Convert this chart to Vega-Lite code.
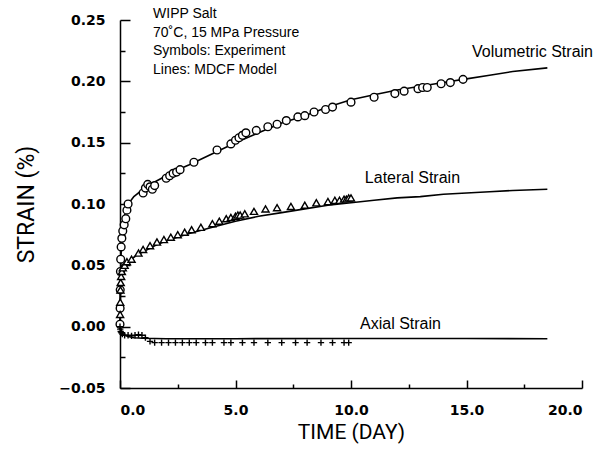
{
  "$schema": "https://vega.github.io/schema/vega-lite/v6.json",
  "autosize": "none",
  "width": 462,
  "height": 368,
  "padding": {"left": 120, "top": 20, "right": 29, "bottom": 63},
  "background": "white",
  "config": {
    "view": {"stroke": null},
    "axis": {
      "grid": false,
      "domainColor": "black",
      "domainWidth": 1.5,
      "tickColor": "black",
      "tickWidth": 1.5,
      "labelFont": "DejaVu Sans",
      "labelFontWeight": "bold",
      "labelFontSize": 14,
      "labelColor": "black",
      "titleFont": "Roboto",
      "titleFontWeight": "normal",
      "titleFontSize": 21,
      "titleColor": "black"
    }
  },
  "datasets": {
    "lines": [
      {"series": "Volumetric", "t": 0, "s": 0},
      {"series": "Volumetric", "t": 0.01, "s": 0.02},
      {"series": "Volumetric", "t": 0.02, "s": 0.035},
      {"series": "Volumetric", "t": 0.04, "s": 0.055},
      {"series": "Volumetric", "t": 0.07, "s": 0.07},
      {"series": "Volumetric", "t": 0.1, "s": 0.078},
      {"series": "Volumetric", "t": 0.15, "s": 0.086},
      {"series": "Volumetric", "t": 0.2, "s": 0.091},
      {"series": "Volumetric", "t": 0.3, "s": 0.097},
      {"series": "Volumetric", "t": 0.4, "s": 0.101},
      {"series": "Volumetric", "t": 0.6, "s": 0.106},
      {"series": "Volumetric", "t": 0.8, "s": 0.109},
      {"series": "Volumetric", "t": 1.0, "s": 0.112},
      {"series": "Volumetric", "t": 1.5, "s": 0.118},
      {"series": "Volumetric", "t": 2, "s": 0.123},
      {"series": "Volumetric", "t": 2.5, "s": 0.128},
      {"series": "Volumetric", "t": 3, "s": 0.132},
      {"series": "Volumetric", "t": 4, "s": 0.141},
      {"series": "Volumetric", "t": 5, "s": 0.15},
      {"series": "Volumetric", "t": 6, "s": 0.158},
      {"series": "Volumetric", "t": 7, "s": 0.166},
      {"series": "Volumetric", "t": 8, "s": 0.172},
      {"series": "Volumetric", "t": 9, "s": 0.179},
      {"series": "Volumetric", "t": 10, "s": 0.185},
      {"series": "Volumetric", "t": 11, "s": 0.189},
      {"series": "Volumetric", "t": 12, "s": 0.193},
      {"series": "Volumetric", "t": 13, "s": 0.196},
      {"series": "Volumetric", "t": 14, "s": 0.199},
      {"series": "Volumetric", "t": 15, "s": 0.202},
      {"series": "Volumetric", "t": 16, "s": 0.205},
      {"series": "Volumetric", "t": 17, "s": 0.208},
      {"series": "Volumetric", "t": 18.5, "s": 0.211},
      {"series": "Lateral", "t": 0, "s": 0},
      {"series": "Lateral", "t": 0.01, "s": 0.02},
      {"series": "Lateral", "t": 0.02, "s": 0.03},
      {"series": "Lateral", "t": 0.04, "s": 0.038},
      {"series": "Lateral", "t": 0.07, "s": 0.043},
      {"series": "Lateral", "t": 0.1, "s": 0.046},
      {"series": "Lateral", "t": 0.2, "s": 0.05},
      {"series": "Lateral", "t": 0.3, "s": 0.052},
      {"series": "Lateral", "t": 0.5, "s": 0.055},
      {"series": "Lateral", "t": 0.7, "s": 0.058},
      {"series": "Lateral", "t": 1, "s": 0.061},
      {"series": "Lateral", "t": 1.5, "s": 0.066},
      {"series": "Lateral", "t": 2, "s": 0.07},
      {"series": "Lateral", "t": 3, "s": 0.076},
      {"series": "Lateral", "t": 4, "s": 0.081},
      {"series": "Lateral", "t": 5, "s": 0.086},
      {"series": "Lateral", "t": 6, "s": 0.09},
      {"series": "Lateral", "t": 7, "s": 0.093},
      {"series": "Lateral", "t": 8, "s": 0.096},
      {"series": "Lateral", "t": 9, "s": 0.099},
      {"series": "Lateral", "t": 10, "s": 0.101},
      {"series": "Lateral", "t": 11, "s": 0.103},
      {"series": "Lateral", "t": 12, "s": 0.105},
      {"series": "Lateral", "t": 13, "s": 0.106},
      {"series": "Lateral", "t": 14, "s": 0.108},
      {"series": "Lateral", "t": 15, "s": 0.109},
      {"series": "Lateral", "t": 16, "s": 0.11},
      {"series": "Lateral", "t": 17, "s": 0.111},
      {"series": "Lateral", "t": 18.5, "s": 0.112},
      {"series": "Axial", "t": 0, "s": 0},
      {"series": "Axial", "t": 0.03, "s": -0.002},
      {"series": "Axial", "t": 0.07, "s": -0.004},
      {"series": "Axial", "t": 0.12, "s": -0.006},
      {"series": "Axial", "t": 0.2, "s": -0.007},
      {"series": "Axial", "t": 0.35, "s": -0.008},
      {"series": "Axial", "t": 0.6, "s": -0.009},
      {"series": "Axial", "t": 1, "s": -0.0095},
      {"series": "Axial", "t": 2, "s": -0.0098},
      {"series": "Axial", "t": 5, "s": -0.0098},
      {"series": "Axial", "t": 10, "s": -0.0097},
      {"series": "Axial", "t": 15, "s": -0.0097},
      {"series": "Axial", "t": 18.5, "s": -0.0098}
    ],
    "points": [
      {"series": "Volumetric", "t": 0, "s": 0.002},
      {"series": "Volumetric", "t": 0.005, "s": 0.015},
      {"series": "Volumetric", "t": 0.01, "s": 0.03},
      {"series": "Volumetric", "t": 0.02, "s": 0.045},
      {"series": "Volumetric", "t": 0.03, "s": 0.055},
      {"series": "Volumetric", "t": 0.05, "s": 0.065},
      {"series": "Volumetric", "t": 0.08, "s": 0.072},
      {"series": "Volumetric", "t": 0.12, "s": 0.078},
      {"series": "Volumetric", "t": 0.18, "s": 0.083},
      {"series": "Volumetric", "t": 0.25, "s": 0.088},
      {"series": "Volumetric", "t": 0.3, "s": 0.095},
      {"series": "Volumetric", "t": 0.35, "s": 0.1},
      {"series": "Volumetric", "t": 1.0, "s": 0.109},
      {"series": "Volumetric", "t": 1.1, "s": 0.113},
      {"series": "Volumetric", "t": 1.2, "s": 0.116},
      {"series": "Volumetric", "t": 1.3, "s": 0.114},
      {"series": "Volumetric", "t": 1.4, "s": 0.112},
      {"series": "Volumetric", "t": 1.5, "s": 0.115},
      {"series": "Volumetric", "t": 2.0, "s": 0.121},
      {"series": "Volumetric", "t": 2.15, "s": 0.123},
      {"series": "Volumetric", "t": 2.3, "s": 0.125},
      {"series": "Volumetric", "t": 2.45, "s": 0.126},
      {"series": "Volumetric", "t": 2.6, "s": 0.128},
      {"series": "Volumetric", "t": 3.2, "s": 0.134},
      {"series": "Volumetric", "t": 4.2, "s": 0.144},
      {"series": "Volumetric", "t": 4.8, "s": 0.149},
      {"series": "Volumetric", "t": 5.0, "s": 0.152},
      {"series": "Volumetric", "t": 5.15, "s": 0.154},
      {"series": "Volumetric", "t": 5.3, "s": 0.156},
      {"series": "Volumetric", "t": 5.45, "s": 0.158},
      {"series": "Volumetric", "t": 5.9, "s": 0.16},
      {"series": "Volumetric", "t": 6.4, "s": 0.163},
      {"series": "Volumetric", "t": 6.8, "s": 0.165},
      {"series": "Volumetric", "t": 7.2, "s": 0.168},
      {"series": "Volumetric", "t": 7.7, "s": 0.171},
      {"series": "Volumetric", "t": 8.0, "s": 0.172},
      {"series": "Volumetric", "t": 8.4, "s": 0.175},
      {"series": "Volumetric", "t": 8.9, "s": 0.177},
      {"series": "Volumetric", "t": 9.2, "s": 0.179},
      {"series": "Volumetric", "t": 10.0, "s": 0.183},
      {"series": "Volumetric", "t": 11.0, "s": 0.187},
      {"series": "Volumetric", "t": 11.9, "s": 0.19},
      {"series": "Volumetric", "t": 12.3, "s": 0.192},
      {"series": "Volumetric", "t": 12.9, "s": 0.194},
      {"series": "Volumetric", "t": 13.1, "s": 0.195},
      {"series": "Volumetric", "t": 13.3, "s": 0.195},
      {"series": "Volumetric", "t": 13.9, "s": 0.198},
      {"series": "Volumetric", "t": 14.3, "s": 0.199},
      {"series": "Volumetric", "t": 14.85, "s": 0.2016},
      {"series": "Lateral", "t": 0.005, "s": 0.01},
      {"series": "Lateral", "t": 0.01, "s": 0.02},
      {"series": "Lateral", "t": 0.02, "s": 0.03},
      {"series": "Lateral", "t": 0.03, "s": 0.036},
      {"series": "Lateral", "t": 0.05, "s": 0.041},
      {"series": "Lateral", "t": 0.08, "s": 0.045},
      {"series": "Lateral", "t": 0.12, "s": 0.048},
      {"series": "Lateral", "t": 0.2, "s": 0.05},
      {"series": "Lateral", "t": 0.3, "s": 0.053},
      {"series": "Lateral", "t": 0.5, "s": 0.055},
      {"series": "Lateral", "t": 0.8, "s": 0.06},
      {"series": "Lateral", "t": 1.0, "s": 0.063},
      {"series": "Lateral", "t": 1.3, "s": 0.066},
      {"series": "Lateral", "t": 1.6, "s": 0.069},
      {"series": "Lateral", "t": 1.9, "s": 0.071},
      {"series": "Lateral", "t": 2.2, "s": 0.073},
      {"series": "Lateral", "t": 2.5, "s": 0.075},
      {"series": "Lateral", "t": 2.8, "s": 0.077},
      {"series": "Lateral", "t": 3.1, "s": 0.079},
      {"series": "Lateral", "t": 3.5, "s": 0.081},
      {"series": "Lateral", "t": 4.0, "s": 0.084},
      {"series": "Lateral", "t": 4.3, "s": 0.086},
      {"series": "Lateral", "t": 4.6, "s": 0.088},
      {"series": "Lateral", "t": 4.8, "s": 0.089},
      {"series": "Lateral", "t": 5.0, "s": 0.09},
      {"series": "Lateral", "t": 5.1, "s": 0.091},
      {"series": "Lateral", "t": 5.2, "s": 0.091},
      {"series": "Lateral", "t": 5.4, "s": 0.092},
      {"series": "Lateral", "t": 5.8, "s": 0.094},
      {"series": "Lateral", "t": 6.3, "s": 0.096},
      {"series": "Lateral", "t": 6.8, "s": 0.097},
      {"series": "Lateral", "t": 7.4, "s": 0.098},
      {"series": "Lateral", "t": 8.0, "s": 0.099},
      {"series": "Lateral", "t": 8.5, "s": 0.101},
      {"series": "Lateral", "t": 9.0, "s": 0.102},
      {"series": "Lateral", "t": 9.3, "s": 0.103},
      {"series": "Lateral", "t": 9.5, "s": 0.103},
      {"series": "Lateral", "t": 9.7, "s": 0.104},
      {"series": "Lateral", "t": 9.8, "s": 0.104},
      {"series": "Lateral", "t": 9.9, "s": 0.105},
      {"series": "Lateral", "t": 10.0, "s": 0.105},
      {"series": "Axial", "t": 0, "s": 0},
      {"series": "Axial", "t": 0.01, "s": -0.002},
      {"series": "Axial", "t": 0.03, "s": -0.004},
      {"series": "Axial", "t": 0.06, "s": -0.005},
      {"series": "Axial", "t": 0.1, "s": -0.006},
      {"series": "Axial", "t": 0.2, "s": -0.007},
      {"series": "Axial", "t": 0.35, "s": -0.007},
      {"series": "Axial", "t": 0.5, "s": -0.0075},
      {"series": "Axial", "t": 0.65, "s": -0.007},
      {"series": "Axial", "t": 0.8, "s": -0.0065},
      {"series": "Axial", "t": 0.95, "s": -0.007},
      {"series": "Axial", "t": 1.1, "s": -0.009},
      {"series": "Axial", "t": 1.3, "s": -0.012},
      {"series": "Axial", "t": 1.5, "s": -0.013},
      {"series": "Axial", "t": 1.8, "s": -0.013},
      {"series": "Axial", "t": 2.1, "s": -0.013},
      {"series": "Axial", "t": 2.4, "s": -0.013},
      {"series": "Axial", "t": 2.7, "s": -0.013},
      {"series": "Axial", "t": 3.0, "s": -0.013},
      {"series": "Axial", "t": 3.3, "s": -0.013},
      {"series": "Axial", "t": 3.7, "s": -0.013},
      {"series": "Axial", "t": 4.0, "s": -0.013},
      {"series": "Axial", "t": 4.5, "s": -0.013},
      {"series": "Axial", "t": 4.8, "s": -0.013},
      {"series": "Axial", "t": 5.3, "s": -0.013},
      {"series": "Axial", "t": 5.8, "s": -0.013},
      {"series": "Axial", "t": 6.4, "s": -0.013},
      {"series": "Axial", "t": 7.0, "s": -0.013},
      {"series": "Axial", "t": 7.6, "s": -0.013},
      {"series": "Axial", "t": 8.1, "s": -0.013},
      {"series": "Axial", "t": 8.7, "s": -0.013},
      {"series": "Axial", "t": 9.2, "s": -0.013},
      {"series": "Axial", "t": 9.7, "s": -0.013},
      {"series": "Axial", "t": 9.9, "s": -0.013}
    ],
    "labels": [
      {"t": 1.43, "s": 0.2545, "text": "WIPP Salt", "size": 14},
      {"t": 1.43, "s": 0.2398, "text": "70˚C, 15 MPa Pressure", "size": 14},
      {"t": 1.43, "s": 0.2244, "text": "Symbols:  Experiment", "size": 14},
      {"t": 1.43, "s": 0.209, "text": "Lines:  MDCF Model", "size": 14},
      {"t": 15.24, "s": 0.2236, "text": "Volumetric Strain", "size": 16},
      {"t": 10.6, "s": 0.1211, "text": "Lateral Strain", "size": 16},
      {"t": 10.39, "s": 0.0024, "text": "Axial Strain", "size": 16}
    ]
  },
  "encoding": {
    "x": {
      "field": "t", "type": "quantitative",
      "scale": {"domain": [0, 20], "nice": false, "zero": false},
      "axis": {
        "title": "TIME (DAY)",
        "values": [0, 2.5, 5, 7.5, 10, 12.5, 15, 17.5, 20],
        "format": ".1f",
        "labelExpr": "datum.value % 5 === 0 ? datum.label : ''",
        "tickSize": {"condition": {"test": "datum.value % 5 === 0", "value": -8}, "value": -4},
        "labelPadding": 23,
        "labelDx": 4,
        "titlePadding": 4
      }
    },
    "y": {
      "field": "s", "type": "quantitative",
      "scale": {"domain": [-0.05, 0.25], "nice": false, "zero": false},
      "axis": {
        "title": "STRAIN (%)",
        "titleFontSize": 23,
        "values": [-0.05, -0.025, 0, 0.025, 0.05, 0.075, 0.1, 0.125, 0.15, 0.175, 0.2, 0.225, 0.25],
        "format": ".2f",
        "labelExpr": "abs(datum.value * 20 - round(datum.value * 20)) < 0.001 ? datum.label : ''",
        "tickSize": {"condition": {"test": "abs(datum.value * 20 - round(datum.value * 20)) < 0.001", "value": -10}, "value": -5},
        "labelPadding": 25,
        "titlePadding": 20
      }
    }
  },
  "layer": [
    {
      "data": {"name": "lines"},
      "mark": {"type": "line", "color": "black", "strokeWidth": 1.6, "clip": false},
      "encoding": {"detail": {"field": "series"}}
    },
    {
      "data": {"name": "points"},
      "mark": {"type": "point", "filled": false, "fill": "white", "fillOpacity": 1, "stroke": "black", "strokeWidth": 1.4, "opacity": 1},
      "encoding": {
        "shape": {
          "field": "series", "type": "nominal",
          "scale": {"domain": ["Volumetric", "Lateral", "Axial"], "range": ["circle", "triangle-up", "M-1,0H1M0,-1V1"]},
          "legend": null
        },
        "size": {
          "field": "series", "type": "nominal",
          "scale": {"domain": ["Volumetric", "Lateral", "Axial"], "range": [60, 40, 40]},
          "legend": null
        }
      }
    },
    {
      "data": {"name": "labels"},
      "mark": {"type": "text", "align": "left", "baseline": "middle", "font": "Liberation Sans", "color": "black", "clip": false},
      "encoding": {
        "text": {"field": "text"},
        "size": {"field": "size", "type": "quantitative", "scale": null, "legend": null}
      }
    }
  ]
}
